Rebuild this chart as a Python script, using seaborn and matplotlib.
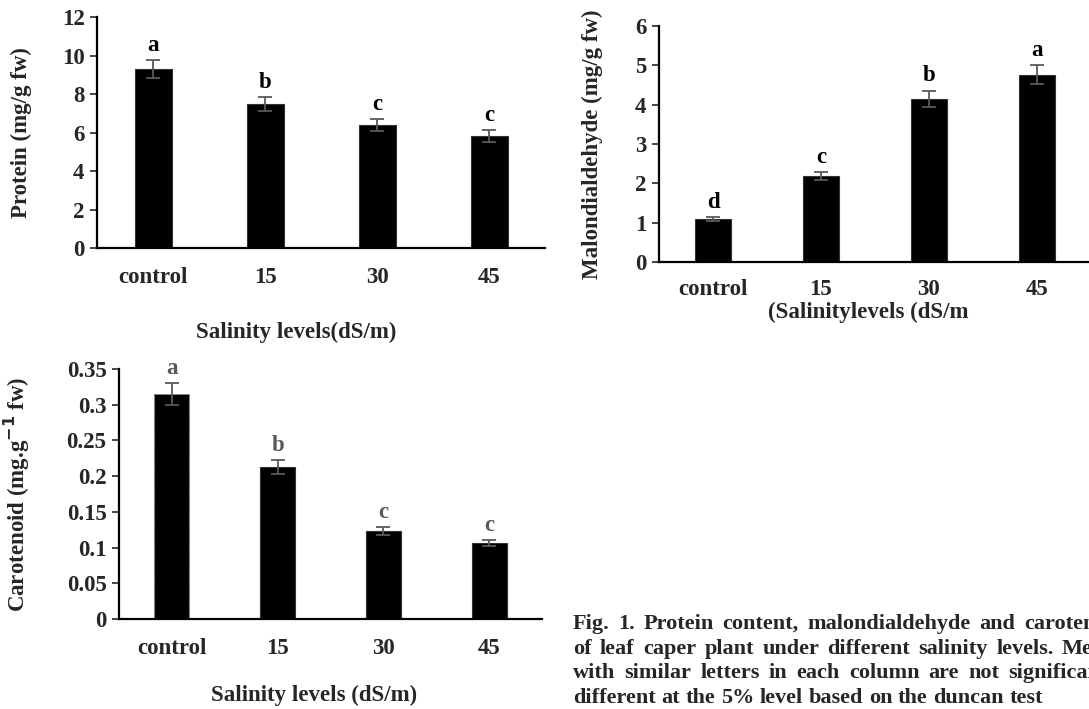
import matplotlib
matplotlib.use("Agg")
import matplotlib.pyplot as plt
import seaborn as sns
import pandas as pd
import numpy as np

sns.set_style("white")
plt.rcParams['font.family'] = ['Liberation Serif', 'DejaVu Serif']
plt.rcParams['font.weight'] = 'bold'

# data
levels = ['control', '15', '30', '45']

protein = [9.3, 7.48, 6.39, 5.82]
protein_err = [0.45, 0.35, 0.32, 0.30]
protein_letters = ['a', 'b', 'c', 'c']

mda = [1.09, 2.19, 4.15, 4.76]
mda_err = [0.05, 0.10, 0.21, 0.24]
mda_letters = ['d', 'c', 'b', 'a']

carot = [0.315, 0.213, 0.123, 0.106]
carot_err = [0.015, 0.010, 0.006, 0.004]
carot_letters = ['a', 'b', 'c', 'c']

caption = ["Fig. 1. Protein content, malondialdehyde and carotenoid",
           "of leaf caper plant under different salinity levels. Means",
           "with similar letters in each column are not significantly",
           "different at the 5% level based on the duncan test"]

FS = 16.5


def panel(ax, vals, errs, letters, ymax, step, ylabel, letter_color='black',
          fmt=None, xpad=10):
    df = pd.DataFrame({'level': levels, 'value': vals})
    sns.barplot(data=df, x='level', y='value', color='black', width=0.33,
                edgecolor='#333333', linewidth=0.8, errorbar=None, ax=ax)
    x = np.arange(len(levels))
    ax.errorbar(x, vals, yerr=errs, fmt='none', ecolor='#595959',
                elinewidth=1.3, capsize=5, capthick=1.3)
    for xi, v, e, l in zip(x, vals, errs, letters):
        ax.annotate(l, (xi, v + e), xytext=(0, 3), textcoords='offset points',
                    ha='center', va='bottom', fontsize=FS, fontweight='bold',
                    color=letter_color)
    ax.set_xlim(-0.5, 3.5)
    ax.set_ylim(0, ymax)
    ticks = np.round(np.arange(0, ymax + step / 2, step), 4)
    ax.set_yticks(ticks)
    if fmt:
        ax.set_yticklabels([fmt(t) for t in ticks])
    ax.set_ylabel(ylabel, fontsize=FS, fontweight='bold')
    ax.set_xlabel('')
    sns.despine(ax=ax)
    for s in ['left', 'bottom']:
        ax.spines[s].set_linewidth(1.6)
        ax.spines[s].set_color('black')
    ax.tick_params(axis='y', left=True, length=5, width=1.2, labelsize=FS, pad=4)
    ax.tick_params(axis='x', bottom=False, labelsize=FS, pad=xpad)
    for t in ax.get_xticklabels() + ax.get_yticklabels():
        t.set_fontweight('bold')


fig = plt.figure(figsize=(10.89, 7.09), dpi=100)

ax1 = fig.add_axes([0.0891, 0.6502, 0.4114, 0.3258])
panel(ax1, protein, protein_err, protein_letters, 12, 2, 'Protein (mg/g fw)')
ax1.yaxis.set_label_coords(-0.145, 0.5)

ax2 = fig.add_axes([0.6051, 0.6305, 0.3967, 0.3328])
panel(ax2, mda, mda_err, mda_letters, 6, 1, 'Malondialdehyde (mg/g fw)', xpad=8.5)
ax2.yaxis.set_label_coords(-0.13, 0.5)

ax3 = fig.add_axes([0.1093, 0.1270, 0.3884, 0.3526])
panel(ax3, carot, carot_err, carot_letters, 0.35, 0.05,
      'Carotenoid (mg.g$^{\\mathbf{-1}}$ fw)', letter_color='#595959',
      fmt=lambda t: '0' if t == 0 else ('%g' % t))
ax3.yaxis.set_label_coords(-0.206, 0.5)
ax3.patches[0].set_linestyle(':')
ax3.patches[0].set_edgecolor('#888888')

fig.text(296 / 1089, 1 - 332 / 709, 'Salinity levels(dS/m)', ha='center', va='center',
         fontsize=FS, fontweight='bold')
fig.text(868 / 1089, 1 - 312 / 709, '(Salinitylevels (dS/m', ha='center', va='center',
         fontsize=FS, fontweight='bold')
fig.text(314 / 1089, 1 - 695 / 709, 'Salinity levels (dS/m)', ha='center', va='center',
         fontsize=FS, fontweight='bold')

# justified caption (last line left aligned), clipped by the right edge like the source
renderer = fig.canvas.get_renderer()
cap_fs = 16
x0, col_w = 573, 552
probe2 = fig.text(0, 0, 'a a', fontsize=cap_fs, fontweight='bold')
probe1 = fig.text(0, 0, 'aa', fontsize=cap_fs, fontweight='bold')
sw = probe2.get_window_extent(renderer).width - probe1.get_window_extent(renderer).width
probe1.remove()
probe2.remove()
for i, line in enumerate(caption):
    yb = 1 - (629 + 24.7 * i) / 709
    words = line.split(' ')
    arts = [fig.text(0, yb, w, ha='left', va='baseline', fontsize=cap_fs,
                     fontweight='bold') for w in words]
    widths = [a.get_window_extent(renderer).width for a in arts]
    if i < len(caption) - 1:
        gap = max((col_w - sum(widths)) / (len(words) - 1), sw)
    else:
        gap = sw
    x = x0
    for a, w in zip(arts, widths):
        a.set_x(x / 1089)
        x += w + gap

fig.savefig('out.png', dpi=100)
